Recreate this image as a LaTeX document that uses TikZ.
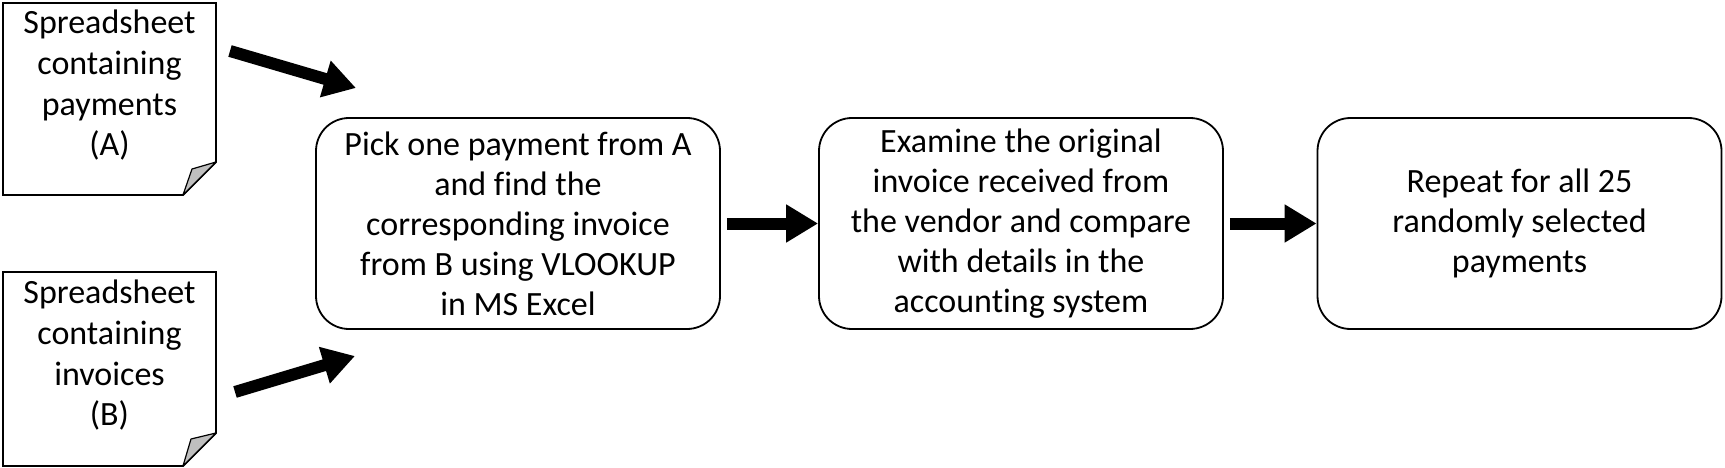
\documentclass[tikz,border=0pt]{standalone}
\usepackage{fontspec}
\setmainfont{Carlito}[Ligatures=NoCommon]
\usetikzlibrary{arrows.meta,calc}
\begin{document}
\begin{tikzpicture}[x=1pt,y=-1pt,
  txt/.style={font={\fontsize{34}{40.7}\selectfont}, align=center, inner sep=0pt, text=black},
  stepbox/.style={draw=black, line width=1.8pt, rounded corners=33pt, minimum width=404pt, minimum height=211pt, align=center, inner sep=0pt, font={\fontsize{34}{40}\selectfont}},
  docline/.style={draw=black, line width=1.8pt, fill=white, line join=miter},
  fold/.style={draw=black, line width=1.2pt, fill=black!25, line join=round},
  bigarrow/.style={draw=black, line width=12pt, -{Triangle[length=32pt,width=36pt]}},
]
\useasboundingbox (0,0) rectangle (1725,468);
\fill[white] (0,0) rectangle (1725,468);

% document A
\draw[docline] (3,3) -- (216,3) -- (216,162) -- (183,195) -- (3,195) -- cycle;
\draw[fold] (183,195) -- (216,162) -- (192,169) -- cycle;
\node[txt] (docA) at (109.5,85.5) {Spreadsheet\\containing\\payments\\(A)};

% document B
\draw[docline] (3,272) -- (216,272) -- (216,433) -- (183,466) -- (3,466) -- cycle;
\draw[fold] (183,466) -- (216,433) -- (191,439) -- cycle;
\node[txt] (docB) at (109.5,355.5) {Spreadsheet\\containing\\invoices\\(B)};

% process boxes
\node[stepbox] (b1) at (518,223.5) {Pick one payment from A\\and find the\\corresponding invoice\\from B using VLOOKUP\\in MS Excel};
\node[stepbox] (b2) at (1021,223.5) {Examine the original\\invoice received from\\the vendor and compare\\with details in the\\accounting system};
\node[stepbox] (b3) at (1519.5,223.5) {Repeat for all 25\\randomly selected\\payments};

% arrows
\coordinate (aS) at (230,51);
\coordinate (aE) at (356,88);
\coordinate (bS) at (235,392);
\coordinate (bE) at (355,356);
\draw[bigarrow] (aS) -- (aE);
\draw[bigarrow] (bS) -- (bE);
\draw[bigarrow] ([xshift=6pt]b1.east) -- (b2.west);
\draw[bigarrow] ([xshift=6pt]b2.east) -- (b3.west);
\end{tikzpicture}
\end{document}
